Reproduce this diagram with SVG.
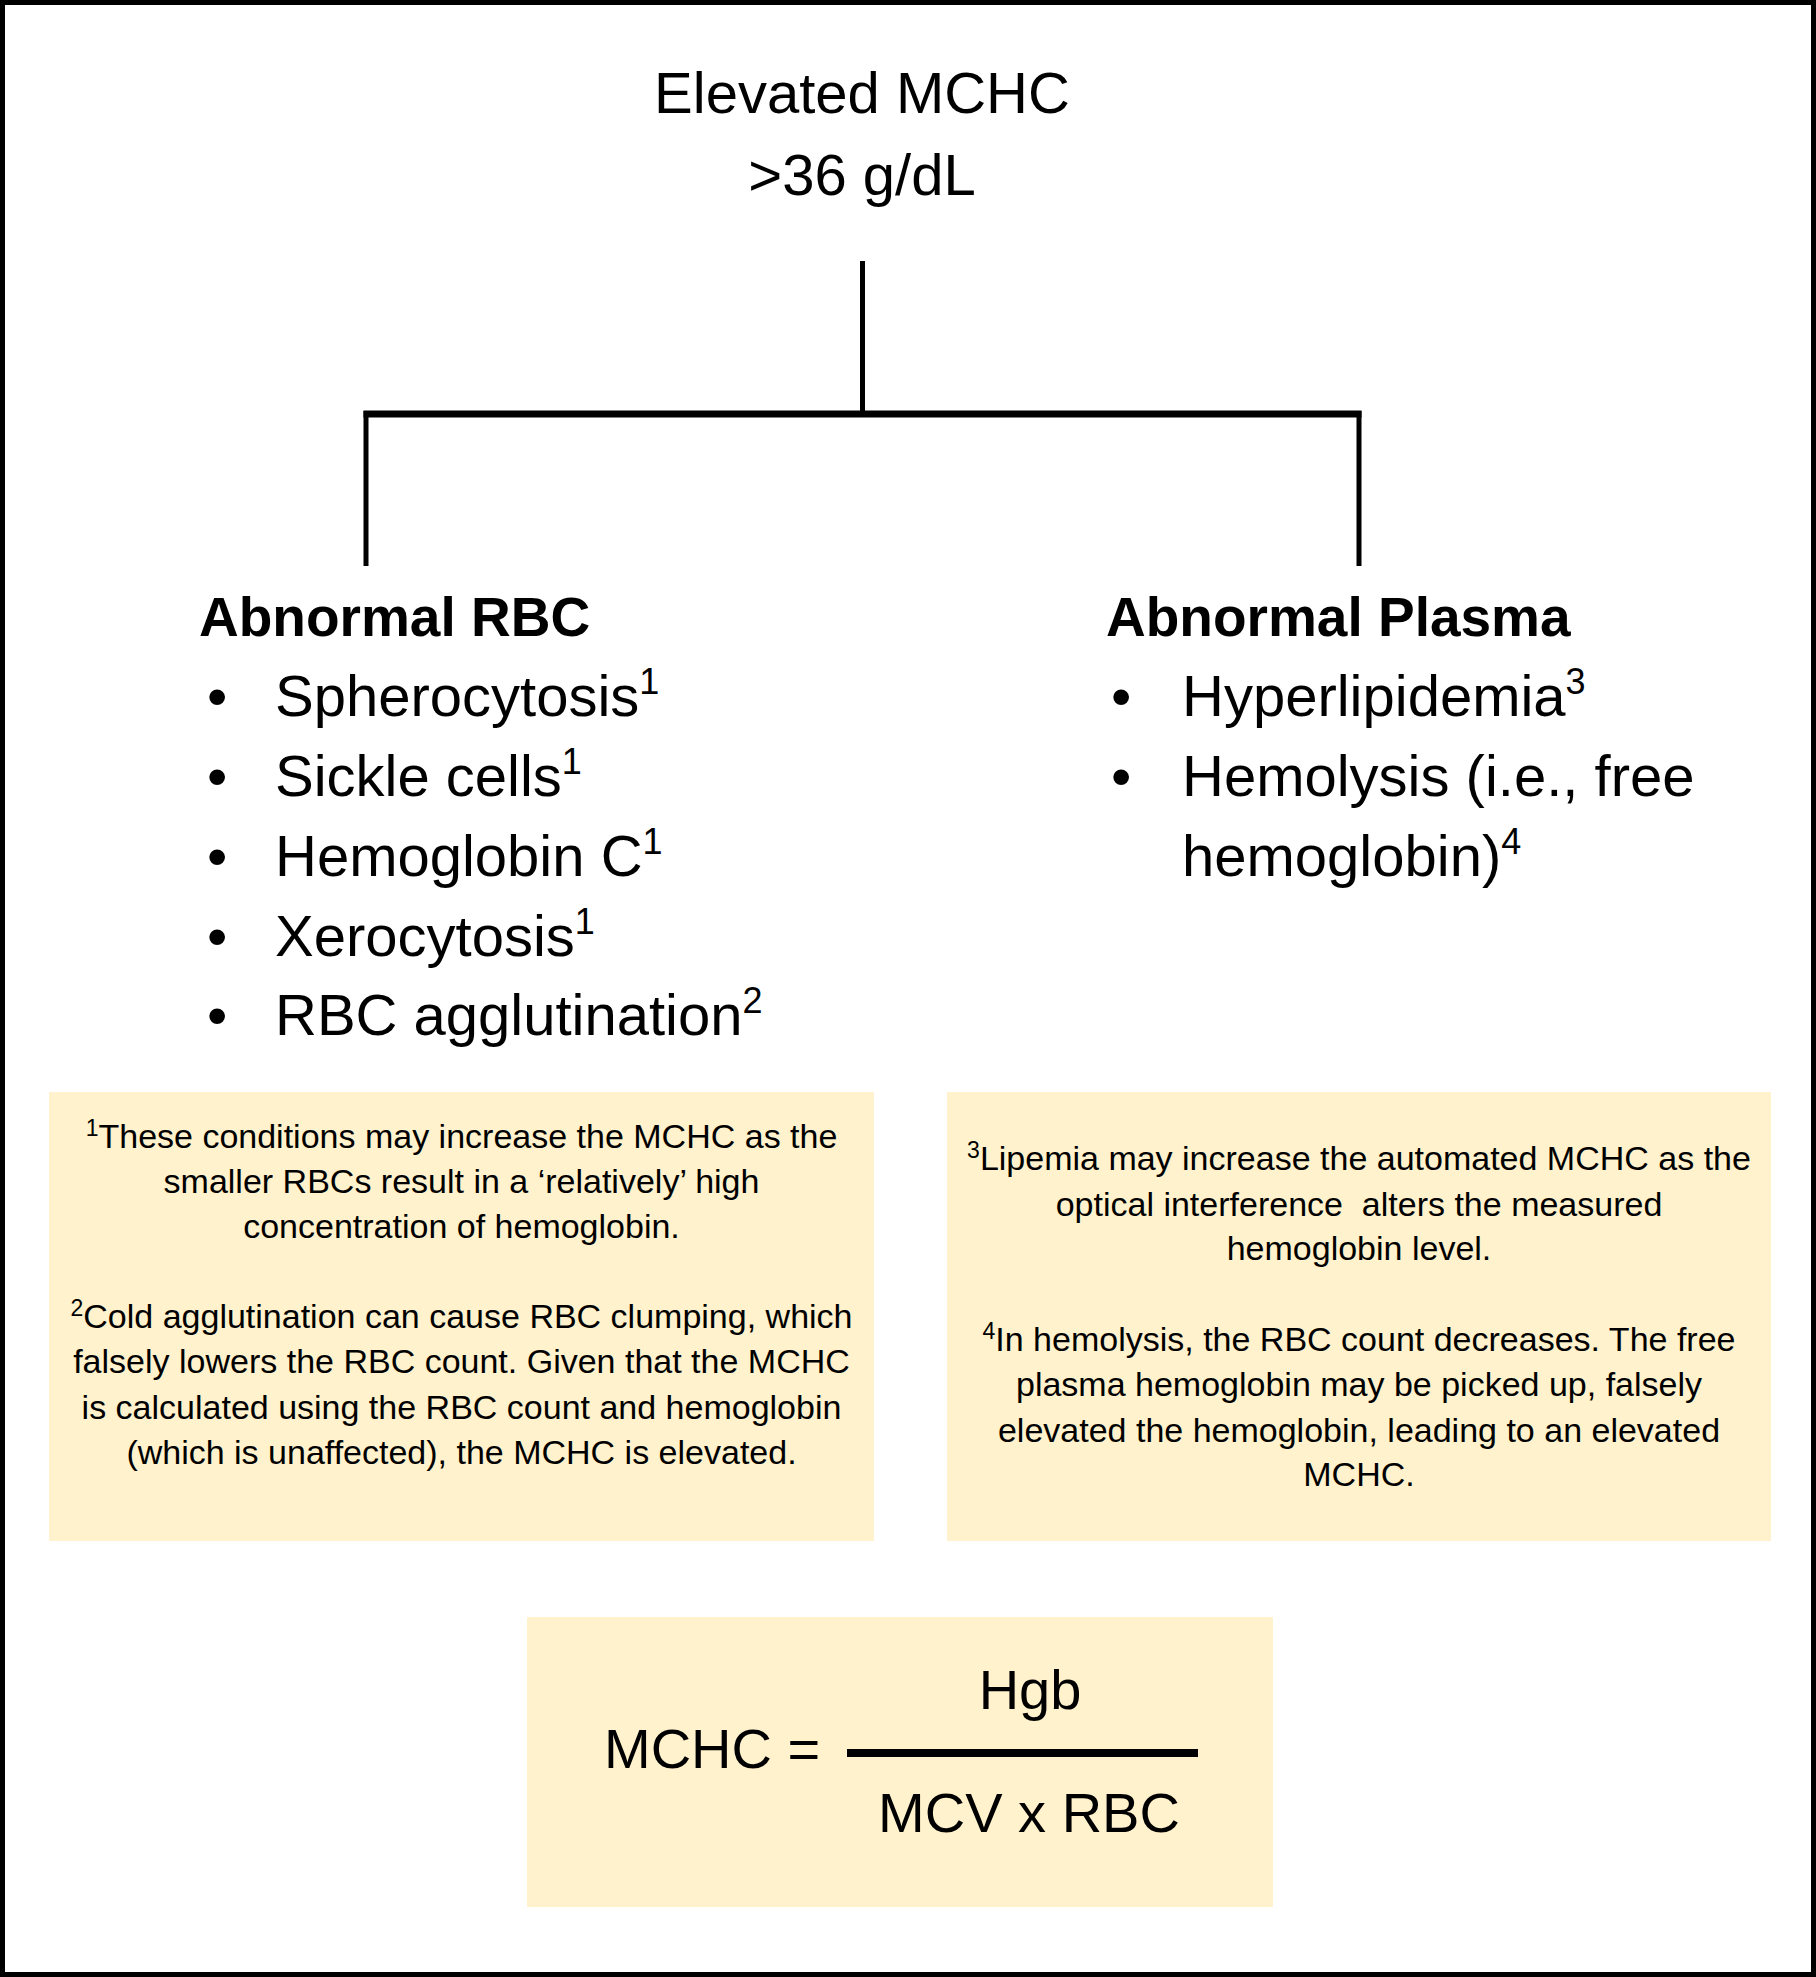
<svg xmlns="http://www.w3.org/2000/svg" width="1816" height="1977" viewBox="0 0 1816 1977">
<style>
text{font-family:"Liberation Sans",Arial,sans-serif;fill:#000}
.title{font-size:58px;text-anchor:middle}
.head{font-size:55px;font-weight:bold}
.item{font-size:58px}
.sup{font-size:36px}
.note{font-size:34px;text-anchor:middle}
.nsup{font-size:23px}
.box{fill:#FFF2CC;stroke:none}
.conn{stroke:#000;fill:none;stroke-linecap:butt}
</style>
<rect x="2.5" y="2.5" width="1811" height="1972" fill="#fff" stroke="#000" stroke-width="5"/>
<g id="title">
<text class="title" x="862" y="113">Elevated MCHC</text>
<text class="title" x="862" y="195">&gt;36 g/dL</text>
</g>
<g id="connectors">
<line class="conn" x1="862.5" y1="261" x2="862.5" y2="411" stroke-width="5"/>
<line class="conn" x1="363.5" y1="414" x2="1361.5" y2="414" stroke-width="7"/>
<line class="conn" x1="366" y1="411" x2="366" y2="566" stroke-width="5"/>
<line class="conn" x1="1359" y1="411" x2="1359" y2="566" stroke-width="5"/>
</g>
<g id="abnormal-rbc">
<text class="head" x="199" y="636">Abnormal RBC</text>
<text class="item" x="207" y="716">•</text>
<text class="item" x="275" y="716">Spherocytosis<tspan class="sup" dy="-22">1</tspan></text>
<text class="item" x="207" y="796">•</text>
<text class="item" x="275" y="796">Sickle cells<tspan class="sup" dy="-22">1</tspan></text>
<text class="item" x="207" y="876">•</text>
<text class="item" x="275" y="876">Hemoglobin C<tspan class="sup" dy="-22">1</tspan></text>
<text class="item" x="207" y="956">•</text>
<text class="item" x="275" y="956">Xerocytosis<tspan class="sup" dy="-22">1</tspan></text>
<text class="item" x="207" y="1035">•</text>
<text class="item" x="275" y="1035">RBC agglutination<tspan class="sup" dy="-22">2</tspan></text>
</g>
<g id="abnormal-plasma">
<text class="head" x="1106" y="636">Abnormal Plasma</text>
<text class="item" x="1111" y="716">•</text>
<text class="item" x="1182" y="716">Hyperlipidemia<tspan class="sup" dy="-22">3</tspan></text>
<text class="item" x="1111" y="796">•</text>
<text class="item" x="1182" y="796">Hemolysis (i.e., free</text>
<text class="item" x="1182" y="876">hemoglobin)<tspan class="sup" dy="-22">4</tspan></text>
</g>
<g id="note-rbc">
<rect class="box" x="49" y="1092" width="825" height="449"/>
<text class="note" x="461.5" y="1148"><tspan class="nsup" dy="-12">1</tspan><tspan dy="12">These conditions may increase the MCHC as the</tspan></text>
<text class="note" x="461.5" y="1193">smaller RBCs result in a ‘relatively’ high</text>
<text class="note" x="461.5" y="1238">concentration of hemoglobin.</text>
<text class="note" x="461.5" y="1328"><tspan class="nsup" dy="-12">2</tspan><tspan dy="12">Cold agglutination can cause RBC clumping, which</tspan></text>
<text class="note" x="461.5" y="1373">falsely lowers the RBC count. Given that the MCHC</text>
<text class="note" x="461.5" y="1419">is calculated using the RBC count and hemoglobin</text>
<text class="note" x="461.5" y="1464">(which is unaffected), the MCHC is elevated.</text>
</g>
<g id="note-plasma">
<rect class="box" x="947" y="1092" width="824" height="449"/>
<text class="note" x="1359" y="1170"><tspan class="nsup" dy="-12">3</tspan><tspan dy="12">Lipemia may increase the automated MCHC as the</tspan></text>
<text class="note" x="1359" y="1216" xml:space="preserve">optical interference  alters the measured</text>
<text class="note" x="1359" y="1260">hemoglobin level.</text>
<text class="note" x="1359" y="1351"><tspan class="nsup" dy="-12">4</tspan><tspan dy="12">In hemolysis, the RBC count decreases. The free</tspan></text>
<text class="note" x="1359" y="1396">plasma hemoglobin may be picked up, falsely</text>
<text class="note" x="1359" y="1442">elevated the hemoglobin, leading to an elevated</text>
<text class="note" x="1359" y="1486">MCHC.</text>
</g>
<g id="formula">
<rect class="box" x="527" y="1617" width="746" height="290"/>
<text x="604" y="1768" style="font-size:56px">MCHC =</text>
<line class="conn" x1="847" y1="1753" x2="1198" y2="1753" stroke-width="8"/>
<text x="1030" y="1709" style="font-size:56px;text-anchor:middle">Hgb</text>
<text x="1029" y="1832" style="font-size:56px;text-anchor:middle">MCV x RBC</text>
</g>
</svg>
